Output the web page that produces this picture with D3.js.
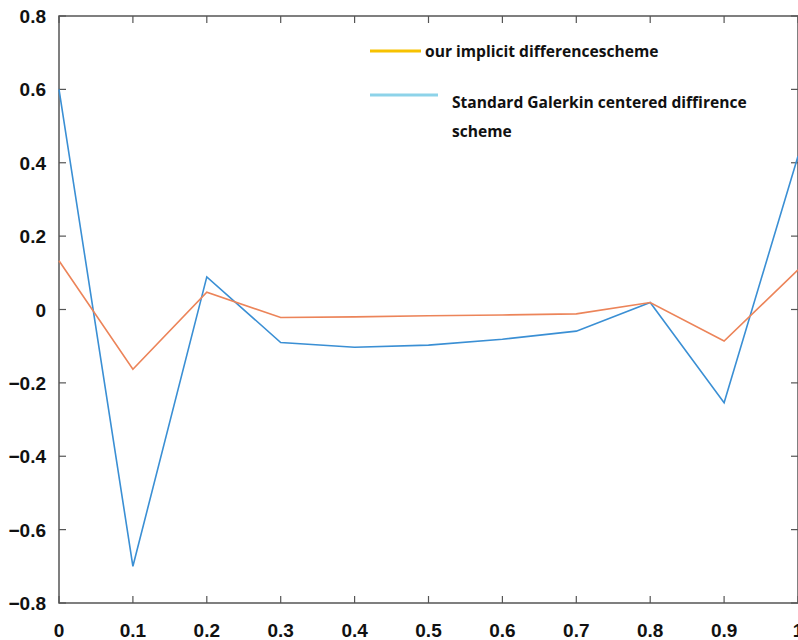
<!DOCTYPE html>
<html>
<head>
<meta charset="utf-8">
<script src="https://cdn.jsdelivr.net/npm/d3@7"></script>
<style>
  body { margin: 0; background: #fff; }
  .tick-label { font-family: "Liberation Sans", Arial, sans-serif; font-weight: bold; font-size: 19px; fill: #111; }
  .legend-text { font-family: "Open Sans", "DejaVu Sans", sans-serif; font-weight: bold; font-size: 15.6px; fill: #111; }
</style>
</head>
<body>
<script>
// x positions
const xs = [0, 0.1, 0.2, 0.3, 0.4, 0.5, 0.6, 0.7, 0.8, 0.9, 1.0];
// our implicit difference scheme (orange)
const implicitVals = [0.133, -0.163, 0.047, -0.022, -0.02, -0.017, -0.015, -0.012, 0.019, -0.086, 0.108];
// standard Galerkin centered difference scheme (blue)
const galerkinVals = [0.6, -0.70, 0.089, -0.09, -0.103, -0.097, -0.081, -0.059, 0.019, -0.254, 0.418];

const xTicks = [0, 0.1, 0.2, 0.3, 0.4, 0.5, 0.6, 0.7, 0.8, 0.9, 1];
const yTicks = [-0.8, -0.6, -0.4, -0.2, 0, 0.2, 0.4, 0.6, 0.8];

const legendLabels = ['our implicit differencescheme', 'Standard Galerkin centered diffirence', 'scheme'];

const W = 798, H = 640;
const margin = {top: 16, right: 0, bottom: 37, left: 59};
const width = W - margin.left - margin.right,
  height = H - margin.top - margin.bottom;

const svg = d3.select('body').append('svg')
  .attr('width', W)
  .attr('height', H);

const x = d3.scaleLinear().domain([0, 1]).range([margin.left, margin.left + width]);
const y = d3.scaleLinear().domain([-0.8, 0.8]).range([margin.top + height, margin.top]);

const axisColor = '#555';

// box
svg.append('rect')
  .attr('x', x(0)).attr('y', y(0.8))
  .attr('width', x(1) - x(0)).attr('height', y(-0.8) - y(0.8))
  .attr('fill', 'none').attr('stroke', axisColor).attr('stroke-width', 1.5);

// ticks inward
const tickLen = 7;
xTicks.forEach(function(t) {
  svg.append('line').attr('x1', x(t)).attr('x2', x(t))
    .attr('y1', y(-0.8)).attr('y2', y(-0.8) - tickLen)
    .attr('stroke', axisColor).attr('stroke-width', 1.2);
  svg.append('line').attr('x1', x(t)).attr('x2', x(t))
    .attr('y1', y(0.8)).attr('y2', y(0.8) + tickLen)
    .attr('stroke', axisColor).attr('stroke-width', 1.2);
  svg.append('text').attr('class', 'tick-label')
    .attr('x', x(t)).attr('y', 637)
    .attr('text-anchor', 'middle')
    .text(d3.format('~g')(t));
});
yTicks.forEach(function(t) {
  svg.append('line').attr('x1', x(0)).attr('x2', x(0) + tickLen)
    .attr('y1', y(t)).attr('y2', y(t))
    .attr('stroke', axisColor).attr('stroke-width', 1.2);
  svg.append('line').attr('x1', x(1)).attr('x2', x(1) - tickLen)
    .attr('y1', y(t)).attr('y2', y(t))
    .attr('stroke', axisColor).attr('stroke-width', 1.2);
  svg.append('text').attr('class', 'tick-label')
    .attr('x', 46).attr('y', y(t) + 7)
    .attr('text-anchor', 'end')
    .text(d3.format('~g')(t));
});

const line = d3.line().x(function(d) { return x(d[0]); }).y(function(d) { return y(d[1]); });

svg.append('path')
  .datum(d3.zip(xs, galerkinVals))
  .attr('d', line)
  .attr('fill', 'none').attr('stroke', '#3a8fd4').attr('stroke-width', 1.6);

svg.append('path')
  .datum(d3.zip(xs, implicitVals))
  .attr('d', line)
  .attr('fill', 'none').attr('stroke', '#ec8459').attr('stroke-width', 1.6);

// legend
svg.append('line').attr('x1', 370).attr('x2', 421).attr('y1', 51).attr('y2', 51)
  .attr('stroke', '#f7c200').attr('stroke-width', 3);
svg.append('text').attr('class', 'legend-text').attr('x', 425).attr('y', 57).text(legendLabels[0]);

svg.append('line').attr('x1', 370).attr('x2', 438).attr('y1', 95).attr('y2', 95)
  .attr('stroke', '#8dd3e9').attr('stroke-width', 3);
svg.append('text').attr('class', 'legend-text').attr('x', 452).attr('y', 108).text(legendLabels[1]);
svg.append('text').attr('class', 'legend-text').attr('x', 452).attr('y', 137).text(legendLabels[2]);
</script>
</body>
</html>
